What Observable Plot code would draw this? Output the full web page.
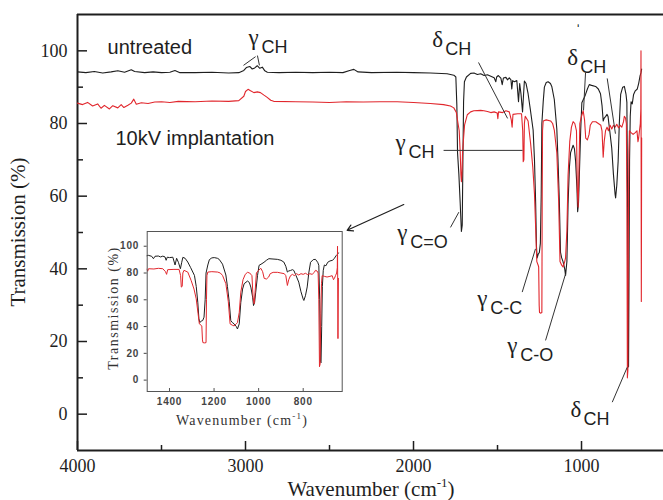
<!DOCTYPE html>
<html><head><meta charset="utf-8">
<script src="https://cdn.jsdelivr.net/npm/d3@7"></script>
<script src="https://cdn.jsdelivr.net/npm/@observablehq/plot@0.6"></script>
<style>html,body{margin:0;padding:0;background:#fff;}</style>
</head><body><div id="chart"></div>
<script>
// ---------- data (wavenumber cm-1, transmission %) ----------
const untreated = [[4000,94.2],[3950,94.0],[3900,94.3],[3850,93.9],[3800,94.2],[3760,94.5],[3720,94.1],[3680,94.8],[3660,94.3],[3600,94.0],[3550,94.2],[3500,94.0],[3450,94.1],[3420,94.6],[3390,94.0],[3300,94.0],[3200,94.1],[3100,93.9],[3040,94.0],[3010,94.6],[2995,95.4],[2975,95.7],[2960,95.0],[2945,95.3],[2930,95.9],[2915,95.2],[2900,95.5],[2885,94.5],[2870,94.1],[2800,94.0],[2700,94.1],[2600,94.0],[2500,94.1],[2420,94.0],[2380,94.6],[2355,94.9],[2330,94.2],[2250,94.0],[2100,94.1],[2000,94.0],[1900,93.9],[1800,93.7],[1760,93.3],[1748,92.8],[1742,85],[1738,72],[1730,66],[1722,58],[1715,50.3],[1710,52],[1706,70],[1702,86],[1697,91.5],[1685,92.8],[1660,93.8],[1640,93.9],[1620,93.5],[1600,93.7],[1580,93.2],[1560,93.4],[1540,93.0],[1520,92.6],[1510,91.5],[1505,92.8],[1495,93.2],[1480,92.5],[1472,90.7],[1465,92.5],[1450,92.7],[1440,92.0],[1430,92.6],[1420,92.0],[1415,89.5],[1410,91.8],[1400,91.5],[1385,91.8],[1375,86],[1368,91],[1360,88],[1351,83.2],[1345,88],[1340,91.7],[1330,91],[1318,88.2],[1305,84],[1288,78.2],[1280,70],[1273,58.2],[1268,46],[1264,43],[1258,44],[1251,44.5],[1245,47],[1240,60],[1236,80],[1228,86],[1221,90],[1210,91.3],[1199,91.5],[1185,91],[1177,90.2],[1162,86.6],[1147,78.5],[1140,70],[1132,58.5],[1125,44.5],[1118,43],[1110,42],[1100,40],[1095,38.2],[1087,42],[1080,58],[1072,68],[1065,72],[1050,74],[1042,73],[1035,69.5],[1027,62],[1023,55.7],[1018,58],[1013,65.7],[1005,78],[998,85.7],[985,87],[976,88],[965,89.5],[954,90.7],[940,90.5],[916,90.2],[900,89.5],[887,88.2],[878,85],[871,80.7],[865,81.5],[857,81.9],[848,82.5],[842,81.9],[832,78],[820,73.2],[810,66],[800,60.5],[797,59.5],[790,63],[782,69.6],[775,80],[767,88],[755,90],[745,90.2],[735,88],[730,85.8],[726,60],[723,14],[720,13],[717,40],[714,70],[710,82],[705,86],[698,85.4],[690,88],[680,89],[668,89.5],[660,91],[652,93],[646,94],[642,95]];

const implanted = [[4000,85.6],[3970,85.2],[3940,85.8],[3910,84.8],[3880,85.4],[3860,84.2],[3840,85.0],[3810,84.0],[3790,84.9],[3760,84.3],[3740,85.2],[3724,84.4],[3700,85.0],[3680,85.6],[3665,86.7],[3650,85.3],[3620,85.7],[3580,85.5],[3540,85.9],[3500,86.0],[3450,85.8],[3400,86.1],[3300,86.0],[3200,86.2],[3100,86.1],[3040,86.3],[3010,87.5],[3000,88.8],[2985,89.4],[2970,89.0],[2950,88.5],[2930,88.7],[2911,88.5],[2890,87.8],[2871,87.2],[2850,86.4],[2832,86.1],[2700,86.0],[2600,85.9],[2500,85.8],[2400,86.0],[2300,85.9],[2200,86.0],[2097,86.0],[2000,85.8],[1900,85.5],[1821,85.2],[1780,84.8],[1760,84.3],[1745,83],[1735,80],[1728,78],[1722,72],[1718,66],[1715,64],[1712,66],[1708,72],[1702,76],[1696,79.6],[1680,82.4],[1660,83.2],[1641,83.5],[1600,83.6],[1581,83.5],[1560,83.3],[1540,83.0],[1520,83.2],[1502,82.9],[1498,81.3],[1494,83.2],[1470,83],[1450,83.5],[1430,83.2],[1418,81],[1413,79],[1408,82.5],[1380,82.7],[1357,82.7],[1350,78],[1347,69.5],[1343,70],[1340,80],[1335,82],[1318,80.7],[1303,74.5],[1290,68],[1280,60.7],[1272,50],[1266,42],[1258,41],[1255,40.5],[1252,30],[1250,28],[1242,27.8],[1236,28],[1234,60],[1232,78],[1228,80.7],[1210,81],[1184,80.7],[1172,80],[1162,78.2],[1147,72],[1136,58.5],[1128,42],[1118,41],[1110,40.5],[1100,42],[1095,43],[1087,50.5],[1080,65.7],[1070,75],[1060,79],[1050,80.5],[1040,80],[1030,78],[1025,62],[1020,57],[1015,68],[1010,80],[1000,82],[990,83.5],[982,81],[975,76],[965,75.5],[955,77],[948,79.5],[935,80.5],[915,80.5],[900,80],[885,79.5],[878,78],[871,70.7],[865,75],[857,78],[848,79],[840,78],[830,79.5],[820,78.5],[810,79.5],[800,79],[790,79.8],[780,78.8],[770,79.5],[760,79],[750,80.5],[745,82],[738,81.5],[733,80],[730,60],[727,10],[724,12],[721,50],[718,72],[715,78],[705,77.5],[693,77],[680,77.5],[670,78],[664,75],[660,76],[655,78],[650,80],[647,84],[646,100],[644,31],[642,76]];

// axes
const xDomain = [4000, 512];
const yDomain = [-10, 110];
const xTickLabels = [4000, 3000, 2000, 1000];
const xMinorTicks = [3500, 2500, 1500];
const yTickLabels = [0, 20, 40, 60, 80, 100];
const yMinorTicks = [10, 30, 50, 70, 90];
const insetXDomain = [1500, 625];
const insetYDomain = [-8.5, 111];
const insetXTicks = [1400, 1200, 1000, 800];
const insetYTicks = [0, 20, 40, 60, 80, 100];

// series labels
const seriesLabelText = ["untreated", "10kV implantation"];
const seriesLabelWn = [3821, 3774];
const seriesLabelT = [99.0, 74.2];

// band annotations
const bandGreek = ["γ", "δ", "δ", "γ", "γ", "γ", "γ", "δ"];
const bandSub = ["CH", "CH", "CH", "CH", "C=O", "C-C", "C-O", "CH"];
const bandWn = [2982, 1889, 1085, 2107, 2097, 1621, 1442, 1065];
const bandT = [101.5, 101.0, 96.0, 72.6, 47.8, 29.9, 16.7, -0.8];
const primeWn = [1036];
const primeT = [104.0];

// leader lines
const leaderWn1 = [3012, 2929, 1613, 976, 847, 1821, 1780, 1353, 1214, 817];
const leaderT1 = [96.0, 98.7, 96.8, 94.0, 92.4, 72.6, 51.4, 33.6, 20.3, 3.3];
const leaderWn2 = [2940, 2917, 1440, 988, 798, 1351, 1730, 1274, 1095, 728];
const leaderT2 = [98.4, 96.0, 81.4, 83.6, 77.2, 72.6, 55.6, 45.5, 38.6, 12.9];
const arrowWn = [2058, 2395];
const arrowT = [57.7, 50.6];

// ---------- styling ----------
const serif = "'Liberation Serif','Times New Roman',Times,serif";
const sans = "'Liberation Sans',Arial,Helvetica,sans-serif";
const INK = "#1e1e1e", RED = "#e1262c";
const W = 663, H = 500, ML = 77, MR = 0, MT = 14, MB = 50;
const plotW = W - ML - MR, plotH = H - MT - MB;

const bandIdx = d3.range(bandGreek.length);
const leaderIdx = d3.range(leaderWn1.length);
const labelIdx = d3.range(seriesLabelText.length);

const main = Plot.plot({
  width: W, height: H,
  marginLeft: ML, marginRight: MR, marginTop: MT, marginBottom: MB,
  style: {fontFamily: serif, fontSize: "18px", color: INK, background: "#fff"},
  x: {domain: xDomain, ticks: xTickLabels, tickFormat: d3.format("d"), tickSize: 0, tickPadding: 9, label: null},
  y: {domain: yDomain, ticks: yTickLabels, tickFormat: d3.format("d"), tickSize: 0, tickPadding: 10, label: null},
  marks: [
    Plot.ruleX(xTickLabels, {insetTop: plotH - 9, stroke: INK, strokeWidth: 1.5}),
    Plot.ruleX(xMinorTicks, {insetTop: plotH - 5, stroke: INK, strokeWidth: 1.5}),
    Plot.ruleY(yTickLabels, {insetRight: plotW - 10, stroke: INK, strokeWidth: 1.5}),
    Plot.ruleY(yMinorTicks, {insetRight: plotW - 6, stroke: INK, strokeWidth: 1.5}),
    Plot.ruleY(yDomain, {stroke: INK, strokeWidth: 2}),
    Plot.ruleX([xDomain[0]], {stroke: INK, strokeWidth: 2}),
    Plot.line(untreated, {x: d => d[0], y: d => d[1], stroke: INK, strokeWidth: 1.1}),
    Plot.line(implanted, {x: d => d[0], y: d => d[1], stroke: RED, strokeWidth: 1.1}),
    Plot.link(leaderIdx, {x1: i => leaderWn1[i], y1: i => leaderT1[i], x2: i => leaderWn2[i], y2: i => leaderT2[i], stroke: "#333", strokeWidth: 1}),
    Plot.arrow([0], {x1: () => arrowWn[0], y1: () => arrowT[0], x2: () => arrowWn[1], y2: () => arrowT[1], stroke: INK, strokeWidth: 1.2, headLength: 8}),
    Plot.text(labelIdx, {x: i => seriesLabelWn[i], y: i => seriesLabelT[i], text: i => seriesLabelText[i], textAnchor: "start", lineAnchor: "bottom", fontFamily: sans, fontSize: 20, fill: INK}),
    Plot.text(bandIdx, {x: i => bandWn[i], y: i => bandT[i], text: i => bandGreek[i], textAnchor: "start", lineAnchor: "bottom", fontFamily: serif, fontSize: 23, fill: INK}),
    Plot.text(bandIdx, {x: i => bandWn[i], y: i => bandT[i], text: i => bandSub[i], textAnchor: "start", lineAnchor: "bottom", dx: 13, dy: 8, fontFamily: sans, fontSize: 18, fill: INK}),
    Plot.text([0], {x: () => primeWn[0], y: () => primeT[0], text: () => "ˈ", textAnchor: "start", lineAnchor: "bottom", fontFamily: sans, fontSize: 16, fill: "#000"})
  ]
});

// ---------- inset ----------
const IML = 40, IMB = 45, IW = 195, IH = 160;
const inset = Plot.plot({
  width: IML + IW, height: IH + IMB,
  marginLeft: IML, marginRight: 0, marginTop: 0, marginBottom: IMB,
  style: {fontFamily: sans, fontSize: "10px", fontWeight: "bold", color: "#444", background: "transparent", letterSpacing: "0.8px"},
  x: {domain: insetXDomain, ticks: insetXTicks, tickFormat: d3.format("d"), tickSize: 0, tickPadding: 6, label: null},
  y: {domain: insetYDomain, ticks: insetYTicks, tickFormat: d3.format("d"), tickSize: 3, tickPadding: 5, label: null},
  marks: [
    Plot.ruleX(insetXTicks, {insetTop: IH - 3, stroke: "#555", strokeWidth: 1}),
    Plot.line(untreated, {x: d => d[0], y: d => d[1], stroke: INK, strokeWidth: 1, clip: true}),
    Plot.line(implanted, {x: d => d[0], y: d => d[1], stroke: RED, strokeWidth: 1, clip: true}),
    Plot.frame({stroke: "#555", strokeWidth: 1})
  ]
});

// move inset into the main svg
const ns = "http://www.w3.org/2000/svg";
const g = document.createElementNS(ns, "g");
for (const a of ["fill", "font-family", "font-size", "text-anchor", "class", "style"]) {
  if (inset.getAttribute(a) != null) g.setAttribute(a, inset.getAttribute(a));
}
g.style.display = "inline";
g.setAttribute("transform", `translate(${146.7 - IML},231)`);
while (inset.firstChild) g.appendChild(inset.firstChild);
main.appendChild(g);

// ---------- axis titles ----------
const svg = d3.select(main);
svg.append("text").attr("transform", "translate(25,232) rotate(-90)")
  .attr("text-anchor", "middle").attr("font-family", serif).attr("font-size", 21).attr("fill", INK)
  .text("Transmission (%)");
const xt = svg.append("text").attr("x", 371).attr("y", 496)
  .attr("text-anchor", "middle").attr("font-family", serif).attr("font-size", 21).attr("fill", INK);
xt.append("tspan").text("Wavenumber (cm");
xt.append("tspan").attr("font-size", 13).attr("dy", -9).text("-1");
xt.append("tspan").attr("dy", 9).text(")");

svg.append("text").attr("transform", "translate(118,308) rotate(-90)")
  .attr("text-anchor", "middle").attr("font-family", serif).attr("font-size", 14)
  .attr("letter-spacing", "1.5px").attr("fill", "#333").text("Transmission (%)");
const ixt = svg.append("text").attr("x", 242).attr("y", 425)
  .attr("text-anchor", "middle").attr("font-family", serif).attr("font-size", 14)
  .attr("letter-spacing", "1.2px").attr("fill", "#333");
ixt.append("tspan").text("Wavenumber (cm");
ixt.append("tspan").attr("font-size", 9).attr("dy", -6).text("-1");
ixt.append("tspan").attr("dy", 6).text(")");

document.getElementById("chart").appendChild(main);
</script>
</body></html>
